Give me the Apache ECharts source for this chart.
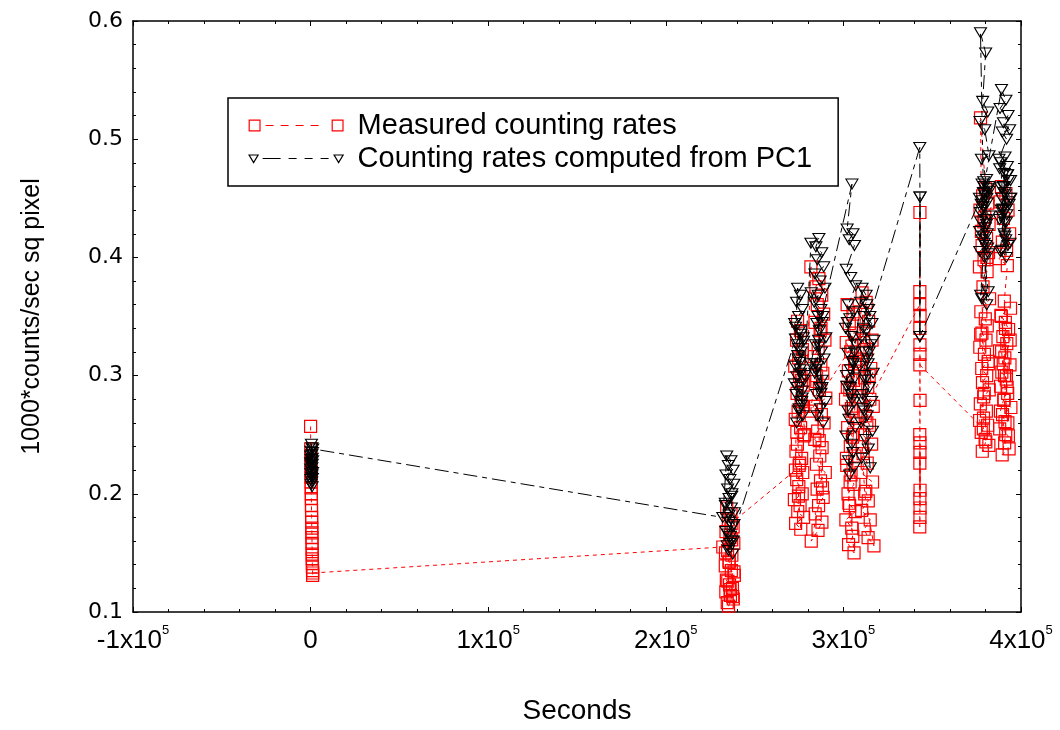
<!DOCTYPE html>
<html>
<head>
<meta charset="utf-8">
<script src="https://cdn.jsdelivr.net/npm/echarts@6/dist/echarts.min.js"></script>
<style>
  html, body { margin: 0; padding: 0; background: #fff; }
  #chart { width: 1060px; height: 730px; }
</style>
</head>
<body>
<div id="chart"></div>
<script>
// Run 1: start of exposure (t ~ 0 s)
const seconds1 = [0, 45, 95, 140, 190, 240, 290, 330, 385, 430, 480, 530, 575, 620, 670, 720, 765, 810, 860, 905, 955, 1000, 1050, 1095, 1140, 1190];
const measured1 = [0.257, 0.238, 0.232, 0.226, 0.219, 0.214, 0.21, 0.205, 0.2, 0.196, 0.19, 0.186, 0.18, 0.176, 0.171, 0.167, 0.163, 0.158, 0.153, 0.149, 0.145, 0.141, 0.138, 0.135, 0.131, 0.133];
const pc1_1 = [0.226, 0.221, 0.232, 0.217, 0.212, 0.236, 0.229, 0.208, 0.224, 0.219, 0.242, 0.214, 0.227, 0.21, 0.233, 0.222, 0.216, 0.239, 0.206, 0.23, 0.225, 0.213, 0.235, 0.218, 0.228, 0.238];

// Run 2 (t ~ 2.36e5 s)
const seconds2 = [232100, 234300, 236700, 235200, 237900, 233900, 236100, 238300, 234800, 237200, 235600, 233500, 236900, 238600, 234100, 235900, 237500, 233800, 236400, 238000, 234600, 235300, 237700, 236200, 234900, 238400, 235700, 233600, 237100, 236800];
const measured2 = [0.155, 0.188, 0.183, 0.178, 0.172, 0.168, 0.163, 0.158, 0.152, 0.148, 0.143, 0.139, 0.135, 0.131, 0.127, 0.123, 0.12, 0.117, 0.114, 0.111, 0.108, 0.105, 0.113, 0.119, 0.126, 0.134, 0.142, 0.15, 0.161, 0.175];
const pc1_2 = [0.18, 0.232, 0.228, 0.224, 0.22, 0.216, 0.212, 0.208, 0.204, 0.2, 0.196, 0.192, 0.188, 0.184, 0.18, 0.176, 0.172, 0.168, 0.164, 0.16, 0.156, 0.152, 0.149, 0.158, 0.166, 0.174, 0.182, 0.19, 0.198, 0.16];

// Run 3 (t ~ 2.75e5 s)
const seconds3 = [273000, 274200, 275800, 273600, 276900, 274800, 272600, 275300, 277400, 273900, 276200, 274500, 272900, 275900, 277800, 274100, 273300, 276500, 275100, 277100, 273700, 274900, 276800, 272400, 275600, 274300, 277600, 273100, 276000, 274700, 275400, 273800, 277000, 276300, 278200];
const measured3 = [0.22, 0.346, 0.338, 0.33, 0.322, 0.315, 0.308, 0.3, 0.292, 0.285, 0.278, 0.27, 0.263, 0.256, 0.249, 0.242, 0.236, 0.23, 0.224, 0.218, 0.212, 0.206, 0.2, 0.195, 0.19, 0.185, 0.18, 0.175, 0.17, 0.198, 0.226, 0.252, 0.274, 0.296, 0.25];
const pc1_3 = [0.331, 0.374, 0.368, 0.362, 0.356, 0.35, 0.344, 0.338, 0.332, 0.326, 0.32, 0.314, 0.308, 0.302, 0.296, 0.29, 0.284, 0.278, 0.272, 0.266, 0.26, 0.27, 0.281, 0.293, 0.305, 0.317, 0.329, 0.341, 0.335, 0.323, 0.311, 0.299, 0.287, 0.275, 0.3];

// Run 4 (t ~ 2.87e5 s)
const seconds4 = [281700, 286200, 284500, 287800, 285300, 288900, 284000, 286900, 289600, 285800, 283600, 287300, 288400, 285000, 286500, 290100, 284300, 287600, 289100, 285500, 283900, 288000, 286700, 284800, 289800, 287100, 285200, 288600, 286000, 284100, 287900, 285700, 281900, 288200, 286400, 284600, 287400, 281600];
const measured4 = [0.392, 0.382, 0.375, 0.368, 0.36, 0.352, 0.345, 0.338, 0.33, 0.323, 0.316, 0.309, 0.302, 0.295, 0.288, 0.281, 0.274, 0.267, 0.26, 0.253, 0.246, 0.239, 0.232, 0.225, 0.218, 0.211, 0.204, 0.197, 0.19, 0.183, 0.176, 0.169, 0.16, 0.205, 0.245, 0.3, 0.34, 0.27];
const pc1_4 = [0.412, 0.416, 0.409, 0.404, 0.398, 0.392, 0.386, 0.38, 0.374, 0.368, 0.362, 0.356, 0.35, 0.344, 0.338, 0.332, 0.326, 0.32, 0.314, 0.308, 0.302, 0.296, 0.29, 0.284, 0.278, 0.272, 0.266, 0.26, 0.33, 0.31, 0.29, 0.35, 0.37, 0.345, 0.325, 0.305, 0.285, 0.31];

// Run 5 (t ~ 3.04e5 s)
const seconds5 = [304800, 302100, 305400, 303300, 306200, 301600, 304100, 306900, 302800, 305700, 303600, 301200, 304500, 307100, 302400, 305100, 303900, 306500, 301900, 304300, 305900, 302600, 303100, 306700, 301400, 304700, 305300, 302900, 306000, 303500, 301700, 304900, 306300, 302200, 305600, 303800];
const measured5 = [0.325, 0.36, 0.352, 0.344, 0.336, 0.328, 0.32, 0.312, 0.304, 0.296, 0.288, 0.28, 0.272, 0.264, 0.256, 0.248, 0.24, 0.232, 0.224, 0.216, 0.208, 0.2, 0.192, 0.185, 0.178, 0.171, 0.164, 0.157, 0.15, 0.19, 0.23, 0.27, 0.31, 0.29, 0.25, 0.21];
const pc1_5 = [0.462, 0.424, 0.42, 0.415, 0.41, 0.39, 0.383, 0.376, 0.36, 0.354, 0.348, 0.34, 0.333, 0.326, 0.319, 0.312, 0.305, 0.298, 0.291, 0.284, 0.277, 0.27, 0.263, 0.256, 0.249, 0.242, 0.235, 0.228, 0.222, 0.216, 0.3, 0.28, 0.32, 0.345, 0.31, 0.29];

// Run 6 (t ~ 3.13e5 s)
const seconds6 = [310500, 312800, 309600, 314200, 311400, 316100, 313000, 310100, 315400, 311900, 313700, 309300, 316800, 312300, 314700, 310800, 315900, 311100, 313400, 309900, 316400, 312600, 314000, 310300, 315100, 311700, 313900, 317200, 312000, 310600, 314500, 311300, 313200, 314900];
const measured6 = [0.37, 0.362, 0.354, 0.346, 0.338, 0.33, 0.322, 0.314, 0.306, 0.298, 0.29, 0.282, 0.274, 0.266, 0.258, 0.25, 0.242, 0.234, 0.226, 0.218, 0.21, 0.202, 0.194, 0.186, 0.178, 0.17, 0.163, 0.156, 0.2, 0.24, 0.3, 0.33, 0.26, 0.28];
const pc1_6 = [0.374, 0.368, 0.362, 0.356, 0.35, 0.344, 0.338, 0.332, 0.326, 0.32, 0.314, 0.308, 0.302, 0.296, 0.29, 0.284, 0.278, 0.272, 0.266, 0.26, 0.253, 0.246, 0.238, 0.23, 0.222, 0.27, 0.31, 0.33, 0.3, 0.28, 0.32, 0.34, 0.36, 0.35];

// Run 7 (t ~ 3.43e5 s); PC1 values exist for the first exposures only
const seconds7 = [343000, 343100, 343050, 343150, 343050, 343100, 343000, 343150, 343100, 343050, 343100, 343150, 343050, 343100, 343000, 343150, 343100, 343050];
const measured7 = [0.36, 0.438, 0.371, 0.351, 0.34, 0.326, 0.25, 0.203, 0.243, 0.196, 0.235, 0.188, 0.226, 0.18, 0.172, 0.279, 0.318, 0.309];
const pc1_7 = [0.493, 0.451, 0.333, 0.451, 0.333, null, null, null, null, null, null, null, null, null, null, null, null, null];

// Run 8 (t ~ 3.79e5 s)
const seconds8 = [378800, 377200, 380100, 378400, 381300, 376900, 379600, 382000, 377700, 380600, 378100, 381700, 379200, 376600, 380900, 378600, 382300, 377400, 379900, 381000, 378000, 380300, 376800, 379400, 381500, 377900, 380700, 378300, 382100, 379000, 377100, 380500, 378900, 381200, 377600, 379800, 381900, 378200, 380200, 376700, 379300, 381600, 377300, 380800, 379100];
const measured8 = [0.255, 0.518, 0.458, 0.452, 0.446, 0.44, 0.434, 0.428, 0.422, 0.416, 0.41, 0.404, 0.398, 0.392, 0.388, 0.375, 0.365, 0.354, 0.348, 0.342, 0.336, 0.33, 0.324, 0.318, 0.312, 0.306, 0.3, 0.294, 0.288, 0.282, 0.276, 0.27, 0.264, 0.258, 0.252, 0.246, 0.241, 0.236, 0.244, 0.262, 0.285, 0.31, 0.335, 0.4, 0.43];
const pc1_8 = [0.455, 0.59, 0.573, 0.532, 0.523, 0.515, 0.508, 0.486, 0.483, 0.466, 0.462, 0.458, 0.454, 0.45, 0.446, 0.443, 0.435, 0.43, 0.425, 0.42, 0.415, 0.41, 0.405, 0.4, 0.371, 0.365, 0.36, 0.448, 0.456, 0.464, 0.438, 0.428, 0.418, 0.408, 0.445, 0.452, 0.46, 0.44, 0.432, 0.422, 0.412, 0.403, 0.368, 0.45, 0.46];

// Run 9 (t ~ 3.91e5 s)
const seconds9 = [389000, 391500, 388200, 392700, 390100, 393600, 389500, 391900, 387600, 392300, 390600, 394100, 388700, 391200, 393000, 389800, 392000, 387900, 390900, 393800, 389200, 391700, 388500, 392500, 390300, 394300, 389600, 391000, 388000, 392900, 390800, 393300, 389400, 391400, 388400, 392200, 390000, 393900, 388900, 391800, 390500, 392600, 389100, 391300, 390700];
const measured9 = [0.46, 0.454, 0.447, 0.44, 0.433, 0.42, 0.413, 0.406, 0.399, 0.393, 0.363, 0.357, 0.351, 0.345, 0.339, 0.333, 0.327, 0.321, 0.315, 0.309, 0.303, 0.297, 0.291, 0.285, 0.279, 0.273, 0.267, 0.261, 0.255, 0.249, 0.243, 0.238, 0.233, 0.25, 0.27, 0.29, 0.31, 0.33, 0.35, 0.3, 0.28, 0.26, 0.32, 0.34, 0.3];
const pc1_9 = [0.542, 0.533, 0.526, 0.52, 0.514, 0.508, 0.506, 0.5, 0.483, 0.477, 0.471, 0.465, 0.459, 0.453, 0.447, 0.441, 0.436, 0.432, 0.418, 0.412, 0.406, 0.4, 0.48, 0.47, 0.46, 0.45, 0.44, 0.485, 0.475, 0.465, 0.455, 0.445, 0.435, 0.415, 0.405, 0.47, 0.46, 0.45, 0.44, 0.43, 0.42, 0.41, 0.45, 0.44, 0.43];

const seriesNames = ['Measured counting rates', 'Counting rates computed from PC1'];

// Time-ordered concatenation of all runs
const allSeconds = [].concat(seconds1, seconds2, seconds3, seconds4, seconds5, seconds6, seconds7, seconds8, seconds9);
const allMeasured = [].concat(measured1, measured2, measured3, measured4, measured5, measured6, measured7, measured8, measured9);
const allPc1 = [].concat(pc1_1, pc1_2, pc1_3, pc1_4, pc1_5, pc1_6, pc1_7, pc1_8, pc1_9);

const measuredPoints = allSeconds.map((t, i) => [t, allMeasured[i]]);
const pc1Points = allSeconds.map((t, i) => [t, allPc1[i] === null ? '-' : allPc1[i]]);

const FONT = '"Liberation Sans", Arial, sans-serif';

// Legend glyphs: marker - dashed line - marker (extra trailing space up to x=104)
const measuredIcon = 'path://M0,0 M104,12 M0.6,0.6 H11.4 V11.4 H0.6 Z M17,6 H25 M32,6 H40 M47,6 H55 M62,6 H70 M83.6,0.6 H94.4 V11.4 H83.6 Z';
const pc1Icon = 'path://M0,0 M104,12 M0.5,2.5 H9.5 L5,10 Z M14,6 H32 M40,6 H48 M56,6 H64 M72,6 H80 M85.5,2.5 H94.5 L90,10 Z';

const xAxisBase = {
  type: 'value',
  min: -100000,
  max: 400000,
  interval: 100000,
  splitLine: { show: false },
  axisLine: { onZero: false, lineStyle: { color: '#000', width: 1.5 } },
  axisTick: { inside: true, length: 5, lineStyle: { color: '#000', width: 1 } },
  minorTick: { show: true, splitNumber: 5, length: 3, lineStyle: { color: '#000', width: 1 } }
};
const yAxisBase = {
  type: 'value',
  min: 0.1,
  max: 0.6,
  interval: 0.1,
  splitLine: { show: false },
  axisLine: { onZero: false, lineStyle: { color: '#000', width: 1.5 } },
  axisTick: { inside: true, length: 5, lineStyle: { color: '#000', width: 1 } },
  minorTick: { show: true, splitNumber: 5, length: 3, lineStyle: { color: '#000', width: 1 } }
};

const option = {
  animation: false,
  backgroundColor: '#fff',
  grid: { left: 133, right: 39, top: 21, bottom: 115, containLabel: false },
  legend: {
    orient: 'vertical',
    left: 228,
    top: 98,
    padding: [12, 26, 12, 20],
    itemGap: 2,
    itemWidth: 104,
    itemHeight: 12,
    borderColor: '#000',
    borderWidth: 1.5,
    backgroundColor: '#fff',
    selectedMode: false,
    textStyle: { fontFamily: FONT, fontSize: 29, color: '#000', lineHeight: 31 },
    data: [
      { name: seriesNames[0], icon: measuredIcon,
        itemStyle: { color: 'transparent', borderColor: '#ff0000', borderWidth: 1.2 } },
      { name: seriesNames[1], icon: pc1Icon,
        itemStyle: { color: 'transparent', borderColor: '#000', borderWidth: 1.2 } }
    ]
  },
  xAxis: [
    Object.assign({}, xAxisBase, {
      position: 'bottom',
      name: 'Seconds',
      nameLocation: 'middle',
      nameGap: 85,
      nameTextStyle: { fontFamily: FONT, fontSize: 28, color: '#000' },
      axisLabel: {
        margin: 12,
        formatter: v => v === 0 ? '{n|0}' : '{n|' + (v / 100000) + 'x10}{s|5}',
        rich: {
          n: { fontFamily: FONT, fontSize: 26, color: '#000', lineHeight: 34 },
          s: { fontFamily: FONT, fontSize: 13, color: '#000', lineHeight: 14, verticalAlign: 'top' }
        }
      }
    }),
    Object.assign({}, xAxisBase, { position: 'top', axisLabel: { show: false } })
  ],
  yAxis: [
    Object.assign({}, yAxisBase, {
      position: 'left',
      name: '1000*counts/sec sq pixel',
      nameLocation: 'middle',
      nameGap: 88,
      nameRotate: 90,
      nameTextStyle: { fontFamily: FONT, fontSize: 25, color: '#000' },
      axisLabel: {
        margin: 10,
        fontFamily: '"DejaVu Sans", sans-serif',
        fontSize: 22,
        color: '#000',
        formatter: v => v.toFixed(1)
      }
    }),
    Object.assign({}, yAxisBase, { position: 'right', axisLabel: { show: false } })
  ],
  series: [
    {
      name: seriesNames[0],
      type: 'line',
      data: measuredPoints,
      symbol: 'rect',
      symbolSize: 12,
      showAllSymbol: true,
      itemStyle: { color: 'transparent', borderColor: '#ff0000', borderWidth: 1.2 },
      lineStyle: { color: '#ff0000', width: 1, type: [4, 4] },
      emphasis: { disabled: true },
      z: 2
    },
    {
      name: seriesNames[1],
      type: 'line',
      data: pc1Points,
      connectNulls: true,
      symbol: 'triangle',
      symbolRotate: 180,
      symbolSize: [12, 10],
      showAllSymbol: true,
      itemStyle: { color: 'transparent', borderColor: '#000', borderWidth: 1.1 },
      lineStyle: { color: '#000', width: 1, type: [14, 5, 5, 5] },
      emphasis: { disabled: true },
      z: 3
    }
  ]
};

const chart = echarts.init(document.getElementById('chart'));
chart.setOption(option);
</script>
</body>
</html>
